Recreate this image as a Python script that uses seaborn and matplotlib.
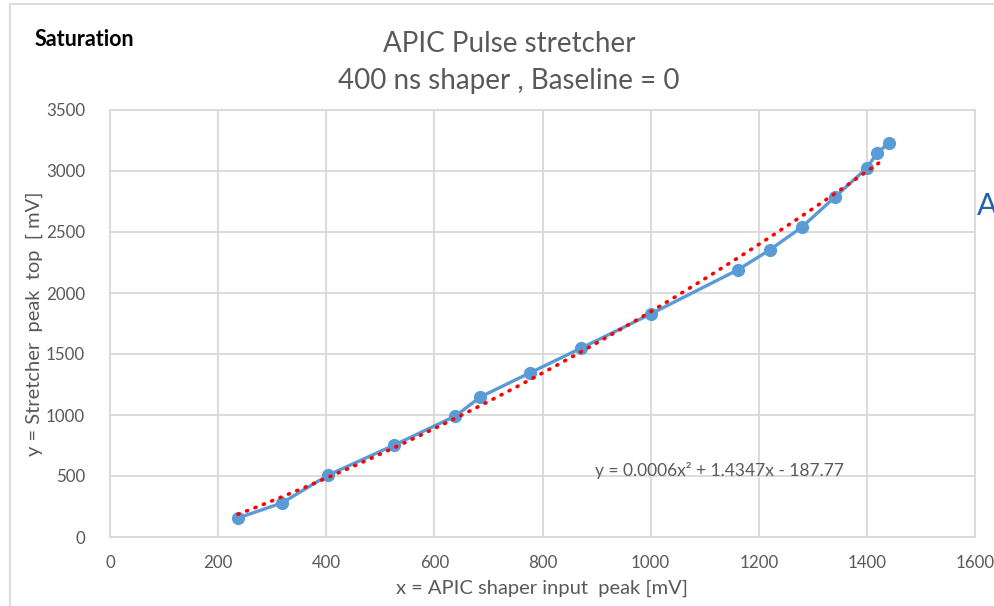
import numpy as np
import pandas as pd
import matplotlib
matplotlib.use("Agg")
import matplotlib.pyplot as plt
from matplotlib.patches import Rectangle
import seaborn as sns

# Measured points: shaper input peak vs stretcher peak top (mV)
input_peak_mv = [237, 318, 404, 526, 639, 685, 776, 872, 1000, 1161, 1220, 1280, 1341, 1400, 1419, 1441]
stretcher_top_mv = [156, 279, 508, 754, 992, 1148, 1344, 1549, 1828, 2189, 2352, 2541, 2787, 3025, 3148, 3230]

# Polynomial trendline coefficients (a*x^2 + b*x + c)
trend_coeffs = [0.0006, 1.4347, -187.77]

x_ticks = [0, 200, 400, 600, 800, 1000, 1200, 1400, 1600]
y_ticks = [0, 500, 1000, 1500, 2000, 2500, 3000, 3500]

sns.set_theme(style="whitegrid")
plt.rcParams["font.family"] = ["Lato", "DejaVu Sans"]

W, H = 995, 606
fig = plt.figure(figsize=(W / 100, H / 100), dpi=100)
ax = fig.add_axes([110 / W, (H - 537) / H, (975 - 110) / W, (537 - 110) / H])

df = pd.DataFrame({"x": input_peak_mv, "y": stretcher_top_mv})
sns.lineplot(data=df, x="x", y="y", ax=ax, color="#5b9bd5", linewidth=2.4,
             marker="o", markersize=9.5, markeredgewidth=0, sort=False, zorder=3)

tx = np.linspace(min(input_peak_mv), max(input_peak_mv) - 10, 200)
ty = np.polyval(trend_coeffs, tx)
trend = pd.DataFrame({"x": tx, "y": ty})
sns.lineplot(data=trend, x="x", y="y", ax=ax, color="#ff0000", linewidth=2.6,
             linestyle=(0, (0.3, 2.2)), zorder=4)
ax.lines[-1].set_dash_capstyle("round")

ax.set_xlim(0, 1600)
ax.set_ylim(0, 3500)
ax.set_xticks(x_ticks)
ax.set_yticks(y_ticks)
ax.set_xticklabels([str(v) for v in x_ticks])
ax.set_yticklabels([str(v) for v in y_ticks])
ax.grid(True, color="#d9d9d9", linewidth=1.3)
for s in ax.spines.values():
    s.set_color("#d9d9d9")
    s.set_linewidth(1.3)
ax.tick_params(axis="both", length=0, labelsize=12.2, colors="#595959")
ax.tick_params(axis="x", pad=13)
ax.tick_params(axis="y", pad=18)

ax.set_xlabel("x = APIC shaper input  peak [mV]", fontsize=14.5, color="#595959", labelpad=6)
ax.set_ylabel("y = Stretcher  peak  top  [ mV]", fontsize=14.5, color="#595959", labelpad=2)

ax.text(1128, 541, "y = 0.0006x² + 1.4347x - 187.77", fontsize=12.5, color="#595959",
        ha="center", va="center")

# Outer chart frame
fig.patches.append(Rectangle((10 / W, -0.1), 1.2, (H - 4) / H + 0.1, transform=fig.transFigure,
                             fill=False, edgecolor="#d9d9d9", linewidth=1.3))

fig.text(35 / W, 1 - 39 / H, "Saturation", fontsize=15.5, fontweight="bold", color="black",
         ha="left", va="center")
fig.text(509 / W, 1 - 44 / H, "APIC Pulse stretcher", fontsize=20, color="#595959",
         ha="center", va="center")
fig.text(509 / W, 1 - 81 / H, "400 ns shaper , Baseline = 0", fontsize=20, color="#595959",
         ha="center", va="center")
# Start of a neighbouring caption running off the right edge
fig.text(977 / W, 1 - 206 / H, "A", fontsize=22, color="#2363ae", ha="left", va="center")

fig.savefig("out.png", dpi=100)
